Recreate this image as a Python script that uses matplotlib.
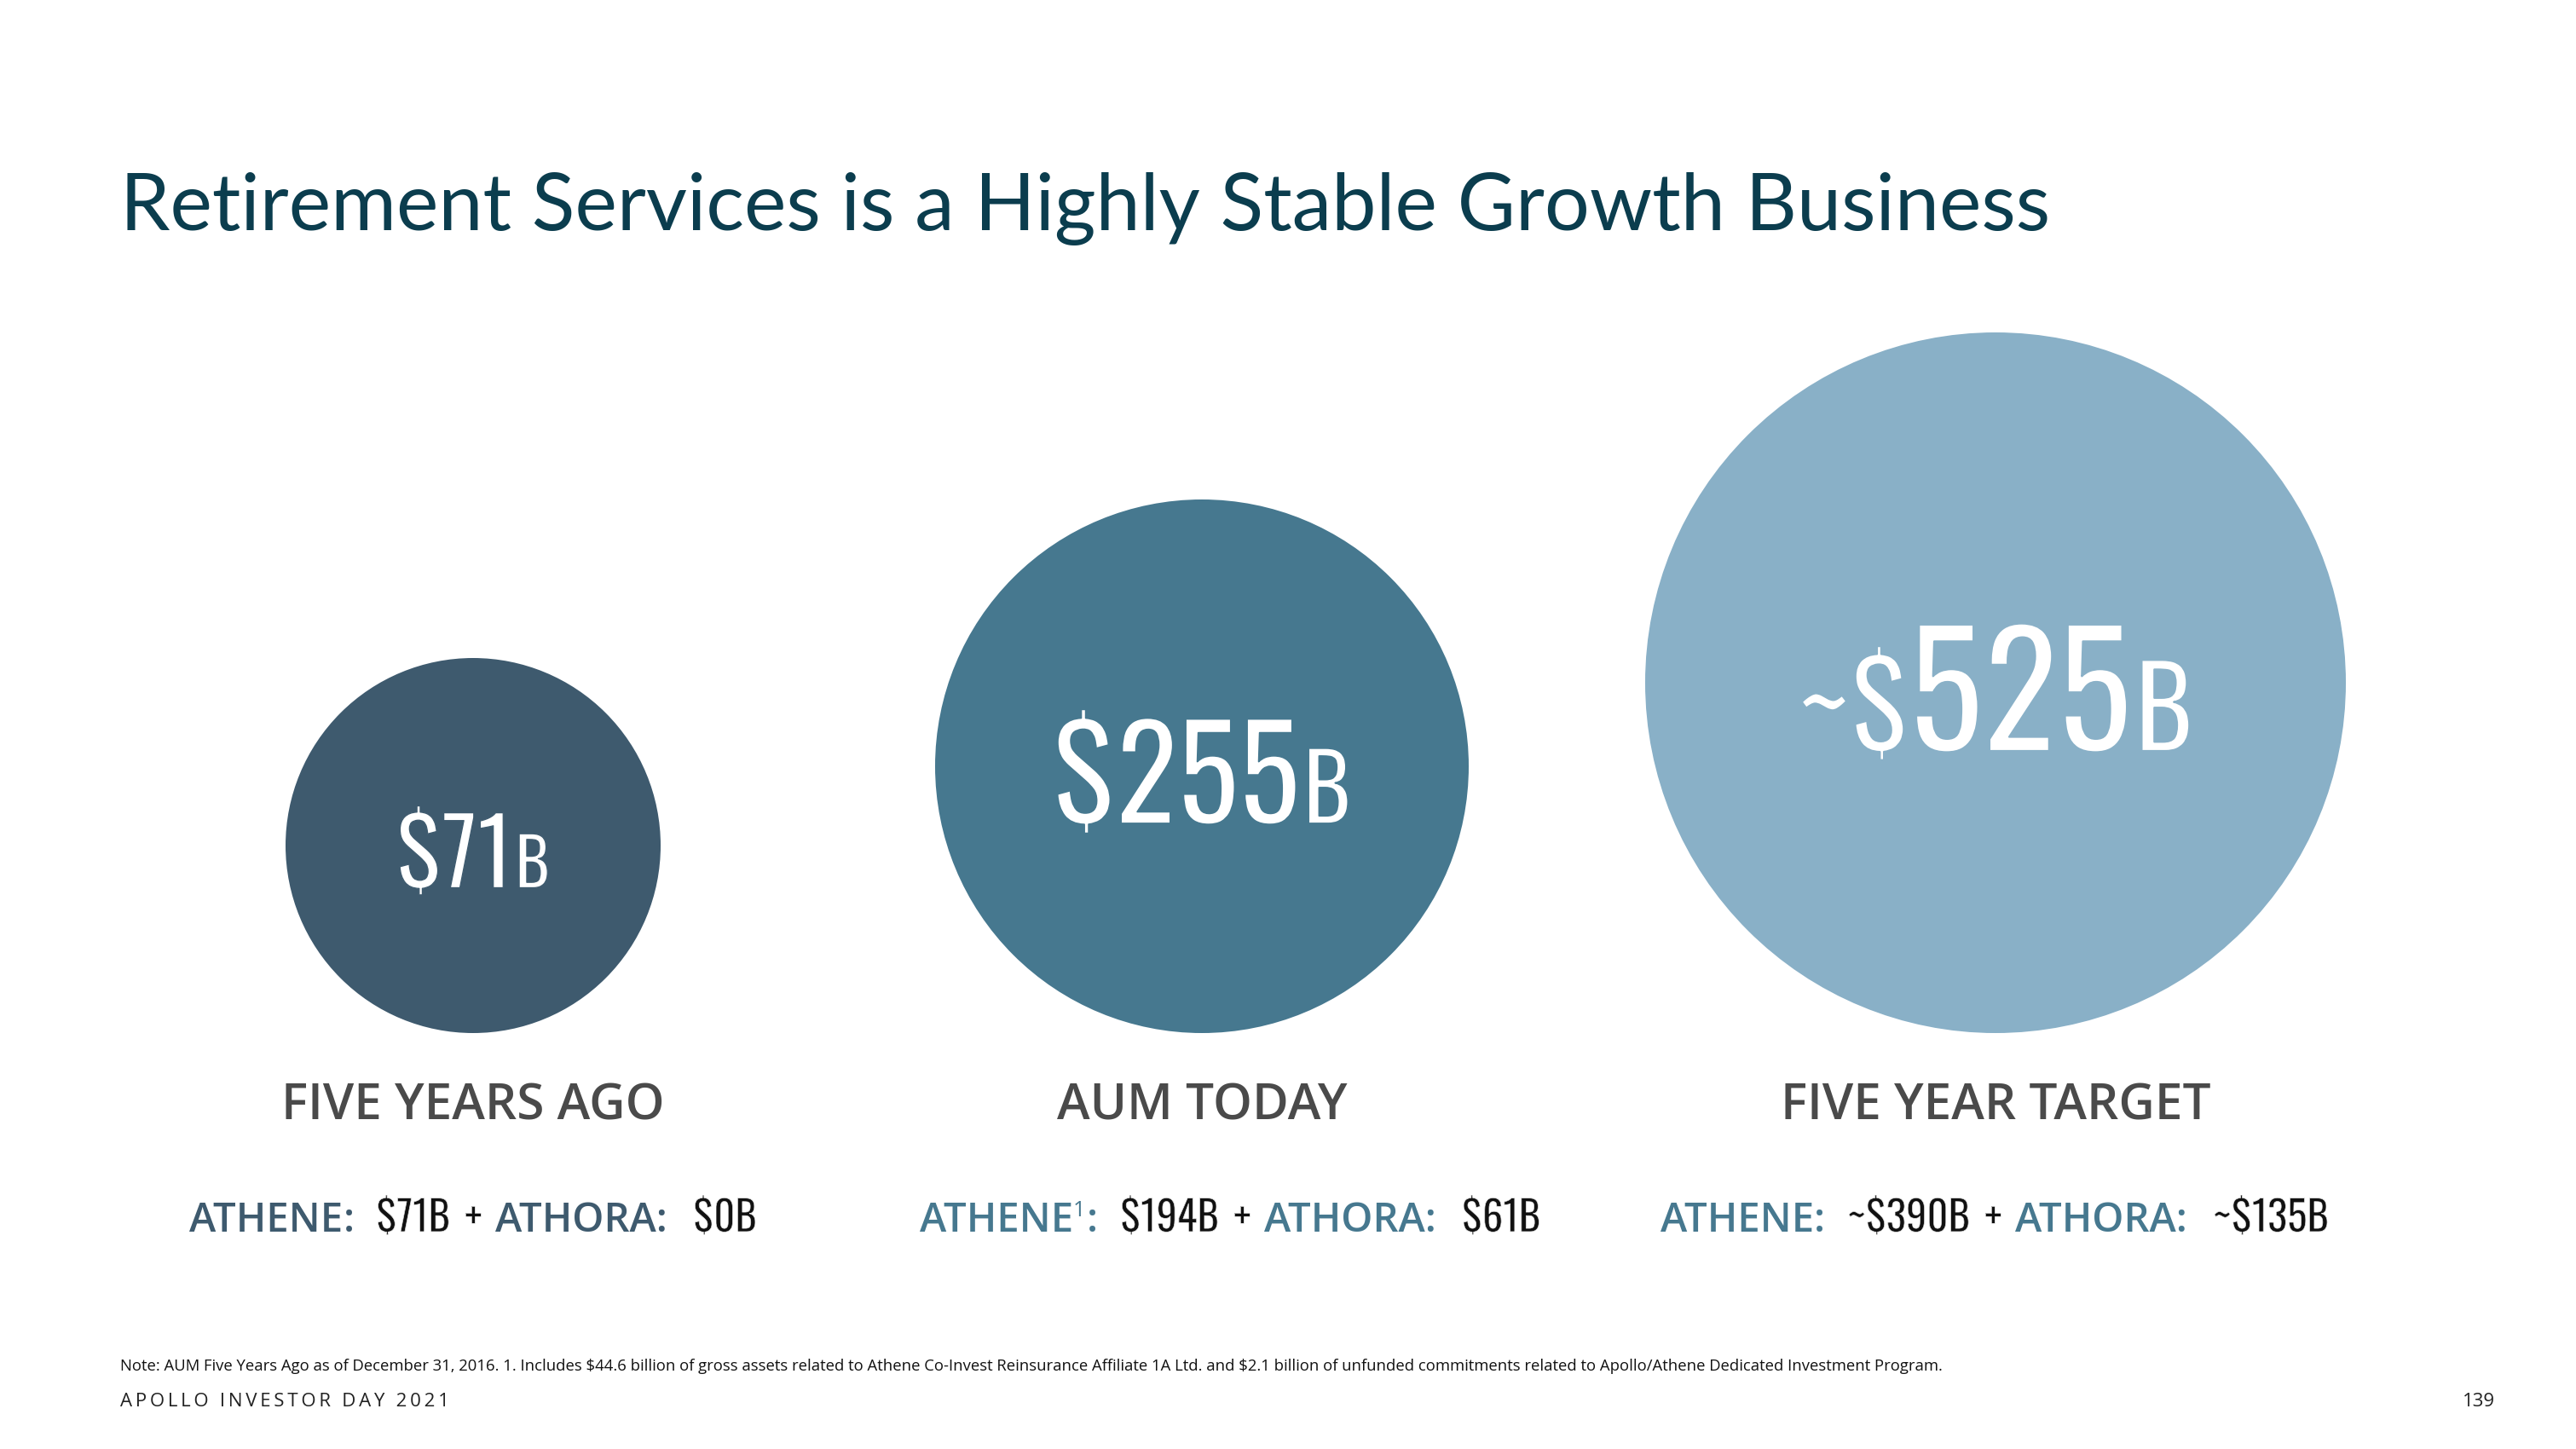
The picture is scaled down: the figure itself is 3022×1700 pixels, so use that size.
import matplotlib
matplotlib.use("Agg")
import matplotlib.pyplot as plt
from matplotlib.patches import Circle
from matplotlib import patheffects as pe

# data
periods = ["FIVE YEARS AGO", "AUM TODAY", "FIVE YEAR TARGET"]
total_aum = [71, 255, 525]
approx = [False, False, True]
athene_aum = [71, 194, 390]
athora_aum = [0, 61, 135]
athene_note = ["", "1", ""]

# layout (pixels of the 3022x1700 canvas)
centers_x = [555, 1410, 2341]
radii = [220, 313, 411]
circle_bottom = 1212
digit_height = [89, 124, 150]
sub_centers = [555, 1443, 2340]
circle_colors = ["#3e5a6e", "#46788f", "#89b0c7"]
athene_colors = ["#3e5a6e", "#46788f", "#46788f"]

TITLE = "#0b3d4e"
GRAY = "#4a4a4a"
COND = ["Oswald", "Roboto Condensed", "DejaVu Sans"]
SANS = ["Open Sans", "DejaVu Sans"]

fig = plt.figure(figsize=(15.11, 8.5), dpi=200)
ax = fig.add_axes([0, 0, 1, 1])
ax.set_xlim(0, 3022)
ax.set_ylim(1700, 0)
ax.axis("off")
renderer = fig.canvas.get_renderer()


def thin(bg, lw):
    # eat a little into the glyph edges so the condensed face looks lighter
    return [pe.Normal(), pe.Stroke(linewidth=lw, foreground=bg)]


def draw_runs(runs, cx, y):
    # runs: (text, kwargs, gap_after, raise_px)
    items = []
    for s, kw, gap, dy in runs:
        t = ax.text(0, y - dy, s, ha="left", va="baseline", **kw)
        w = t.get_window_extent(renderer).width
        items.append((t, w, gap))
    total = sum(w + g for _, w, g in items) - items[-1][2]
    x = cx - total / 2
    for t, w, g in items:
        t.set_x(x)
        x += w + g


ax.text(141, 270, "Retirement Services is a Highly Stable Growth Business",
        family=["Lato", "Open Sans", "DejaVu Sans"], fontsize=33.6, color=TITLE, va="baseline")

for i in range(3):
    r = radii[i]
    cy = circle_bottom - r
    ax.add_patch(Circle((centers_x[i], cy), r, color=circle_colors[i], lw=0))

    h = digit_height[i]
    big = h * 0.36 / 0.82
    num = dict(family=COND, color="white", path_effects=thin(circle_colors[i], big * 0.012))
    runs = []
    if approx[i]:
        runs.append(("~\\$", dict(num, fontsize=big * 0.76), 0, 0))
        runs.append((f"{total_aum[i]}", dict(num, fontsize=big), 3, 0))
    else:
        runs.append((f"\\${total_aum[i]}", dict(num, fontsize=big), 3, 0))
    runs.append(("B", dict(num, fontsize=big * 0.72), 0, 0))
    draw_runs(runs, centers_x[i], cy + h / 2 + 5)

    ax.text(centers_x[i], 1314, periods[i], family=SANS, weight="semibold",
            fontsize=21, color=GRAY, ha="center", va="baseline")

    pre = "~" if approx[i] else ""
    lab = dict(family=SANS, weight="semibold", fontsize=17, color=athene_colors[i])
    val = dict(family=COND, fontsize=17.5, color="#111111", path_effects=thin("white", 0.25))
    sub = [("ATHENE", lab, 0, 0)]
    if athene_note[i]:
        sub.append((athene_note[i], dict(lab, fontsize=9, weight="normal"), 2, 18))
    sub.append((":", lab, 26, 0))
    sub.append((f"{pre}\\${athene_aum[i]}B", val, 17, 0))
    sub.append(("+", val, 16, 0))
    sub.append(("ATHORA:", lab, 30, 0))
    sub.append((f"{pre}\\${athora_aum[i]}B", val, 0, 0))
    draw_runs(sub, sub_centers[i], 1445)

ax.text(141, 1608, "Note: AUM Five Years Ago as of December 31, 2016. 1. Includes \\$44.6 billion of gross assets "
        "related to Athene Co-Invest Reinsurance Affiliate 1A Ltd. and \\$2.1 billion of unfunded commitments "
        "related to Apollo/Athene Dedicated Investment Program.",
        family=SANS, fontsize=6.67, color="#111111", va="baseline")
ax.text(141, 1650, "\u2009".join("APOLLO INVESTOR DAY 2021"), family=SANS, fontsize=8,
        color="#222222", va="baseline")
ax.text(2927, 1650, "139", family=SANS, fontsize=8, color="#222222", va="baseline", ha="right")

fig.savefig("out.png", dpi=200)
